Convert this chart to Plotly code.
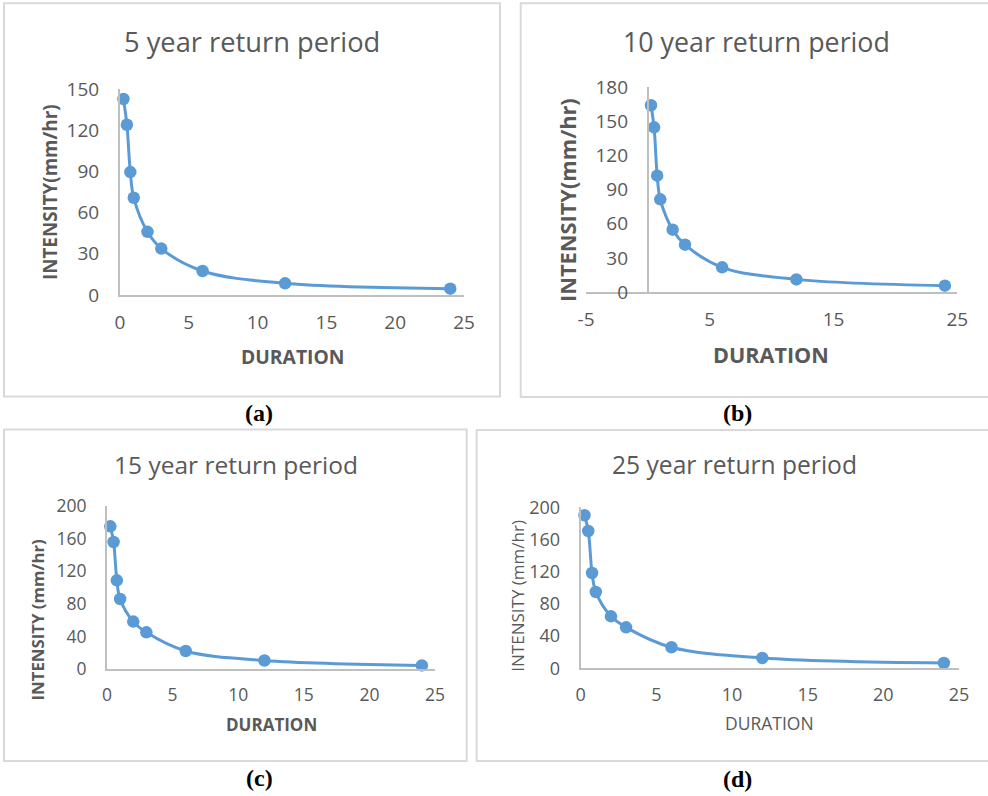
import plotly.graph_objects as go

# Rainfall intensity-duration data (duration in hours, intensity in mm/hr)
durations = [0.25, 0.5, 0.75, 1, 2, 3, 6, 12, 24]
intensity_5yr = [142.7, 124.0, 89.5, 70.8, 46.0, 33.8, 17.5, 8.5, 4.6]
intensity_10yr = [164.2, 144.8, 102.3, 81.5, 54.8, 41.6, 21.7, 11.1, 5.6]
intensity_15yr = [175.1, 155.9, 109.0, 86.1, 58.4, 45.3, 22.4, 10.8, 4.8]
intensity_25yr = [190.1, 170.6, 118.4, 94.8, 64.6, 50.9, 26.1, 12.8, 6.6]

titles = ["5 year return period", "10 year return period",
          "15 year return period", "25 year return period"]
panel_tags = ["(a)", "(b)", "(c)", "(d)"]

# duration ticks of the 10-year chart (plain hyphen for the negative label)
b_xtick_vals = [-5, 5, 15, 25]
b_xtick_text = ["-5", "5", "15", "25"]

W, H = 988, 796
BLUE = "#5B9BD5"
GREY_TXT = "#595959"
AXIS_C = "#BFBFBF"
BOX_C = "#D9D9D9"
FONT = "Open Sans"


def px(x):
    return x / W


def py(y):
    return 1 - y / H


fig = go.Figure()

series = [intensity_5yr, intensity_10yr, intensity_15yr, intensity_25yr]
for i, vals in enumerate(series):
    n = "" if i == 0 else str(i + 1)
    fig.add_trace(go.Scatter(
        x=durations, y=vals, mode="lines+markers",
        line=dict(color=BLUE, width=3, shape="spline", smoothing=1.0),
        marker=dict(color=BLUE, size=12.5),
        xaxis="x" + n, yaxis="y" + n, showlegend=False,
        cliponaxis=False,
    ))

# plot-area geometry (pixels): x-left, x-right, y-bottom, y-top
panels = [
    dict(x0=120, x1=464, yb=295, yt=89, xr=[0, 25], xd=5, yr=[0, 150], yd=30, tf=19),
    dict(x0=586, x1=957.3, yb=292, yt=87.3, xr=[-5, 25], xd=10, yr=[0, 180], yd=30, tf=19),
    dict(x0=107, x1=435, yb=669.3, yt=506, xr=[0, 25], xd=5, yr=[0, 200], yd=40, tf=17.5),
    dict(x0=580.7, x1=959, yb=668.3, yt=507.3, xr=[0, 25], xd=5, yr=[0, 200], yd=40, tf=18),
]

layout = {}
for i, p in enumerate(panels):
    n = "" if i == 0 else str(i + 1)
    xa = dict(
        domain=[px(p["x0"]), px(p["x1"])], range=p["xr"], dtick=p["xd"],
        tick0=p["xr"][0], anchor="y" + n, showgrid=False, zeroline=False,
        showline=True, linecolor=AXIS_C, linewidth=2, ticks="",
        tickfont=dict(family=FONT, size=p["tf"], color=GREY_TXT),
        ticklabelstandoff=9, automargin=False,
    )
    ya = dict(
        domain=[py(p["yb"]), py(p["yt"])], range=p["yr"], dtick=p["yd"],
        anchor="x" + n, showgrid=False, zeroline=False,
        showline=True, linecolor=AXIS_C, linewidth=2, ticks="",
        tickfont=dict(family=FONT, size=p["tf"], color=GREY_TXT),
        ticklabelstandoff=15, automargin=False,
    )
    if i == 1:
        xa.update(tickmode="array", tickvals=b_xtick_vals, ticktext=b_xtick_text)
        # vertical axis crosses the horizontal one at duration 0
        x_zero = p["x0"] + (0 - p["xr"][0]) / (p["xr"][1] - p["xr"][0]) * (p["x1"] - p["x0"])
        ya.update(anchor="free", position=px(x_zero))
    layout["xaxis" + n] = xa
    layout["yaxis" + n] = ya

fig.update_layout(**layout)

# panel frames
boxes = [(4, 3.3, 500, 396.5), (520.7, 3.3, 992, 397),
         (4, 429.5, 466.7, 761), (476.7, 430, 992, 761)]
for (x0, y0, x1, y1) in boxes:
    fig.add_shape(type="rect", xref="paper", yref="paper",
                  x0=px(x0), x1=px(x1), y0=py(y1), y1=py(y0),
                  line=dict(color=BOX_C, width=2), layer="below")

annotations = []
# chart titles
title_pos = [(251.7, 41.7, 27.3), (756.7, 41.7, 26.8), (236, 465, 24.5), (734.7, 465, 24.6)]
for t, (x, y, s) in zip(titles, title_pos):
    annotations.append(dict(text=t, x=px(x), y=py(y), xref="paper", yref="paper",
                            showarrow=False, xanchor="center", yanchor="middle",
                            font=dict(family=FONT, size=s, color=GREY_TXT)))

# axis titles
ytitles = [("<b>INTENSITY(mm/hr)</b>", 50, 192, 18.8),
           ("<b>INTENSITY(mm/hr)</b>", 568, 200, 21.8),
           ("<b>INTENSITY (mm/hr)</b>", 37, 619.5, 16.8),
           ("INTENSITY (mm/hr)", 516.7, 596, 17)]
for t, x, y, s in ytitles:
    annotations.append(dict(text=t, x=px(x), y=py(y), xref="paper", yref="paper",
                            showarrow=False, textangle=-90, xanchor="center", yanchor="middle",
                            font=dict(family=FONT, size=s, color=GREY_TXT)))
xtitles = [("<b>DURATION</b>", 292, 356, 19.3),
           ("<b>DURATION</b>", 771, 354, 21.6),
           ("<b>DURATION</b>", 271, 724, 17),
           ("DURATION", 769, 723, 17.5)]
for t, x, y, s in xtitles:
    annotations.append(dict(text=t, x=px(x), y=py(y), xref="paper", yref="paper",
                            showarrow=False, xanchor="center", yanchor="middle",
                            font=dict(family=FONT, size=s, color=GREY_TXT)))

# panel tags below each chart
tag_pos = [(259, 413), (737, 413), (259, 778), (737.5, 778.5)]
for t, (x, y) in zip(panel_tags, tag_pos):
    annotations.append(dict(text="<b>" + t + "</b>", x=px(x), y=py(y), xref="paper", yref="paper",
                            showarrow=False, xanchor="center", yanchor="middle",
                            font=dict(family="Liberation Serif", size=24, color="#000000")))

fig.update_layout(
    annotations=annotations,
    width=W, height=H,
    margin=dict(l=0, r=0, t=0, b=0, pad=0, autoexpand=False),
    paper_bgcolor="white", plot_bgcolor="white",
    showlegend=False,
)

fig.write_html("out.html")
